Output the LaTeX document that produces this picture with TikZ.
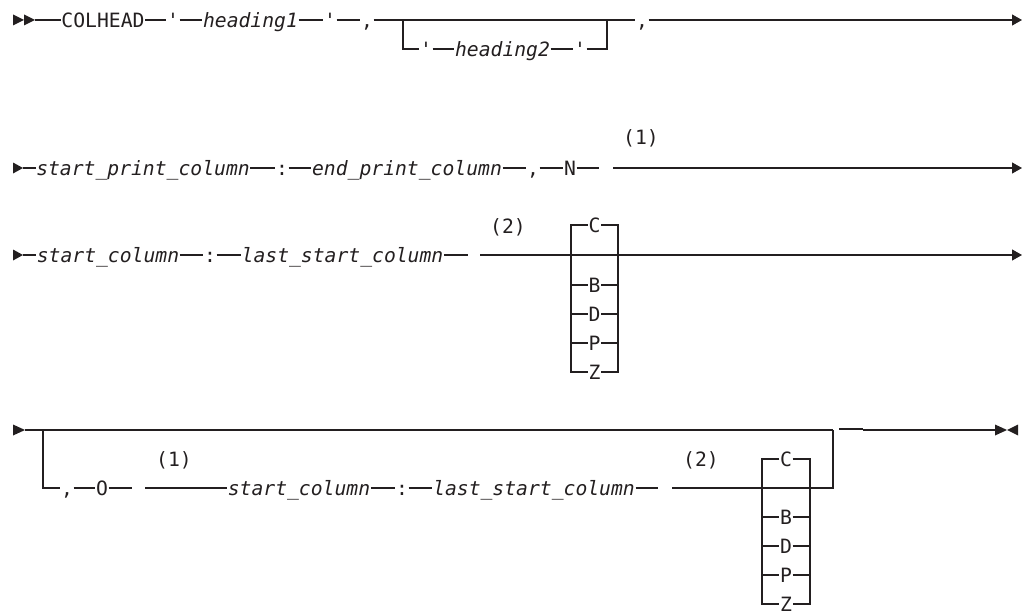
\documentclass[tikz,border=0pt]{standalone}
\usepackage{fontspec}
\setmonofont{DejaVu Sans Mono}
\usepackage{xcolor}
\usepackage{tikz}
\usetikzlibrary{arrows.meta}
\definecolor{railink}{HTML}{231F20}

\begin{document}
\begin{tikzpicture}[x=1pt,y=-1pt,
    rail/.style={draw=railink,line width=1.1pt},
    toend/.style={rail,-{Triangle[length=10pt,width=11pt]}},
    term/.style={text=railink,font=\ttfamily\fontsize{19.7}{20}\selectfont,
      inner xsep=0.5pt,inner ysep=0pt,text height=14.4pt,text depth=0pt},
    var/.style={term,font=\ttfamily\itshape\fontsize{19.7}{20}\selectfont}]
    \useasboundingbox (0,0) rectangle (1022,610);

    % first line
    \fill[railink] (13,14.5) -- (24,20) -- (13,25.5) -- cycle;
    \fill[railink] (24,14.5) -- (35,20) -- (24,25.5) -- cycle;
    \coordinate (r1s) at (35,20);
    \node[term] (colhead) at (103,20) {COLHEAD};
    \node[term] (q1) at (173,20) {'};
    \node[var] (head1) at (250.5,20) {heading1};
    \node[term] (q2) at (330,20) {'};
    \node[term] (c1) at (367,20) {,};
    \coordinate (j1a) at (403,20);
    \coordinate (j1b) at (607,20);
    \node[term] (q3) at (426,49) {'};
    \node[var] (head2) at (502.5,49) {heading2};
    \node[term] (q4) at (580,49) {'};
    \node[term] (c2) at (642,20) {,};
    \coordinate (r1e) at (1022,20);
    \draw[rail] (r1s) -- (colhead) -- (q1) -- (head1) -- (q2) -- (c1) -- (c2);
    \draw[rail] (j1a) |- (q3) -- (head2) -- (q4) -| (j1b);
    \draw[toend] (c2) -- (r1e);

    % second line
    \fill[railink] (13,162.5) -- (23,168) -- (13,173.5) -- cycle;
    \coordinate (r2s) at (23,168);
    \node[var] (spc) at (143,168) {start\_print\_column};
    \node[term] (col1) at (282,168) {:};
    \node[var] (epc) at (407,168) {end\_print\_column};
    \node[term] (c3) at (533,168) {,};
    \node[term] (nopt) at (570,168) {N};
    \coordinate (r2g) at (599,168);
    \coordinate (r2h) at (613,168);
    \node[term] (fn1) at (641,137) {(1)};
    \coordinate (r2e) at (1022,168);
    \draw[rail] (r2s) -- (spc) -- (col1) -- (epc) -- (c3) -- (nopt) -- (r2g);
    \draw[toend] (r2h) -- (r2e);

    % third line
    \fill[railink] (13,249.5) -- (23,255) -- (13,260.5) -- cycle;
    \coordinate (r3s) at (23,255);
    \node[var] (sc1) at (108,255) {start\_column};
    \node[term] (col2) at (210,255) {:};
    \node[var] (lsc1) at (342.5,255) {last\_start\_column};
    \coordinate (r3g) at (468,255);
    \coordinate (r3h) at (480,255);
    \node[term] (fn2) at (508,226) {(2)};
    \coordinate (r3l) at (571,255);
    \coordinate (r3r) at (618,255);
    \node[term] (r3C) at (594.5,225) {C};
    \foreach \o/\yy in {B/285,D/314,P/343,Z/372}
      \node[term] (r3\o) at (594.5,\yy) {\o};
    \coordinate (r3e) at (1022,255);
    \draw[rail] (r3s) -- (sc1) -- (col2) -- (lsc1) -- (r3g);
    \draw[toend] (r3h) -- (r3e);
    \draw[rail] (r3C.west) -- (r3C.west -| r3l) -- (r3l |- r3Z) -- (r3Z.west);
    \draw[rail] (r3C.east) -- (r3C.east -| r3r) -- (r3r |- r3Z) -- (r3Z.east);
    \foreach \o in {B,D,P}
      \draw[rail] (r3\o.west -| r3l) -- (r3\o) -- (r3\o.east -| r3r);

    % fourth line
    \fill[railink] (13,424.5) -- (25,430) -- (13,435.5) -- cycle;
    \coordinate (r4s) at (25,430);
    \coordinate (r4a) at (43,430);
    \coordinate (r4b) at (833,430);
    \coordinate (r4d1) at (839,429);
    \coordinate (r4d2) at (863,429);
    \coordinate (r4f) at (995,430);
    \node[term] (c4) at (67,488) {,};
    \node[term] (oopt) at (102,488) {O};
    \coordinate (r4g) at (132,488);
    \coordinate (r4h) at (145,488);
    \node[term] (fn3) at (174,459) {(1)};
    \node[var] (sc2) at (299,488) {start\_column};
    \node[term] (col3) at (402,488) {:};
    \node[var] (lsc2) at (534,488) {last\_start\_column};
    \coordinate (r4i) at (658,488);
    \coordinate (r4j) at (672,488);
    \node[term] (fn4) at (701,459) {(2)};
    \coordinate (r4l) at (762,488);
    \coordinate (r4r) at (810,488);
    \node[term] (r4C) at (786,459) {C};
    \foreach \o/\yy in {B/517,D/546,P/575,Z/604}
      \node[term] (r4\o) at (786,\yy) {\o};
    \draw[rail] (r4s) -- (r4b);
    \draw[rail,line width=1.6pt] (r4d1) -- (r4d2);
    \draw[rail] (r4d2 |- r4f) -- (r4f);
    \fill[railink] (995,424.5) -- (1007,430) -- (995,435.5) -- cycle;
    \fill[railink] (1018,424.5) -- (1007,430) -- (1018,435.5) -- cycle;
    \draw[rail] (r4a) |- (c4) -- (oopt) -- (r4g);
    \draw[rail] (r4h) -- (sc2) -- (col3) -- (lsc2) -- (r4i);
    \draw[rail] (r4j) -| (r4b);
    \draw[rail] (r4C.west) -- (r4C.west -| r4l) -- (r4l |- r4Z) -- (r4Z.west);
    \draw[rail] (r4C.east) -- (r4C.east -| r4r) -- (r4r |- r4Z) -- (r4Z.east);
    \foreach \o in {B,D,P}
      \draw[rail] (r4\o.west -| r4l) -- (r4\o) -- (r4\o.east -| r4r);
  \end{tikzpicture}
\end{document}
